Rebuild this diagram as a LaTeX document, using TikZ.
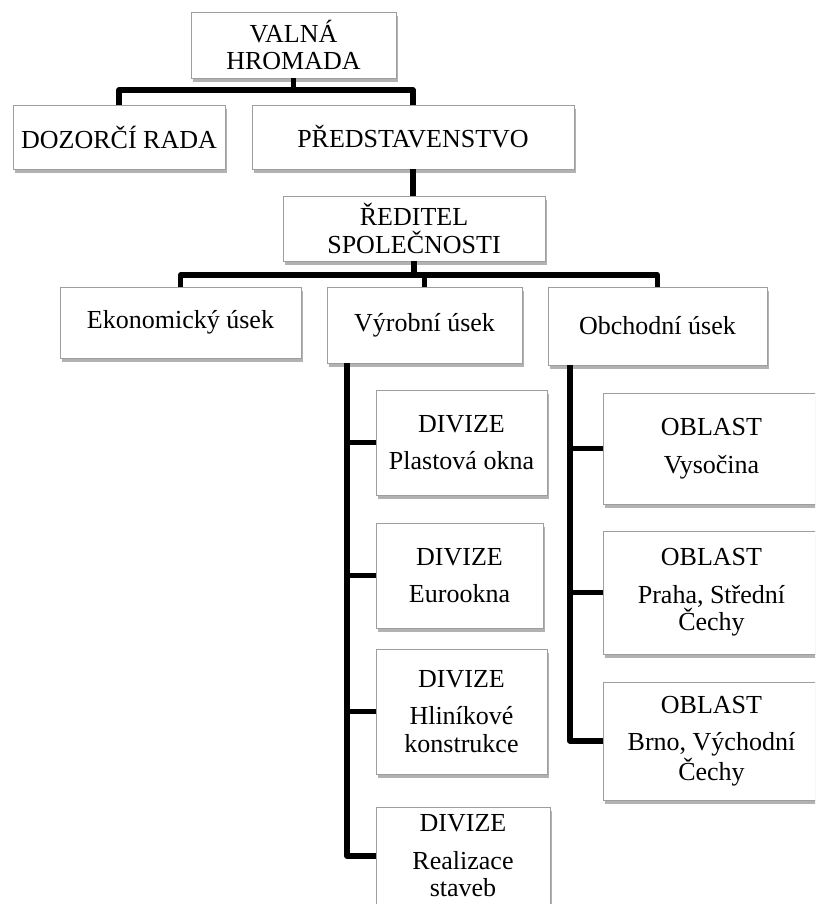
\documentclass[tikz,border=0pt]{standalone}
\usepackage{fontspec}
\setmainfont{Liberation Serif}
\usetikzlibrary{shadows}
\newcommand\boxfont{\fontsize{19.5pt}{20.6pt}\selectfont}
\tikzset{
  box/.style={draw=black!38, line width=0.75pt, fill=white, inner sep=0pt, outer sep=0pt,
    align=center, font=\boxfont,
    drop shadow={shadow xshift=1.5pt, shadow yshift=-2.7pt, opacity=0.5, fill=black!60}},
  conn/.style={line width=3.8pt, line join=round, draw=black}
}
\begin{document}
\begin{tikzpicture}[x=0.75pt, y=-0.75pt]
\path[use as bounding box, clip] (0,0) rectangle (815,904);
\fill[white] (0,0) rectangle (815,904);
% top level
\node[box, minimum width=153.75pt, minimum height=49.5pt] (vh) at (293.5,45) {VALNÁ\\HROMADA};
\node[box, minimum width=159pt, minimum height=48pt] (dr) at (119,137) {DOZORČÍ RADA};
\node[box, minimum width=241.5pt, minimum height=48pt] (pr) at (413,137) {PŘEDSTAVENSTVO};
\node[box, minimum width=196.5pt, minimum height=48.75pt] (rd) at (414,228.5) {ŘEDITEL\\SPOLEČNOSTI};
% sections
\node[box, minimum width=180.75pt, minimum height=53.25pt] (ek) at (180.5,322.5) {Ekonomický úsek};
\node[box, minimum width=146.25pt, minimum height=57pt] (vy) at (424.5,325) {Výrobní úsek};
\node[box, minimum width=164.25pt, minimum height=58.5pt] (ob) at (657.5,326) {Obchodní úsek};
% divisions
\node[box, minimum width=128.25pt, minimum height=78.75pt] (d1) at (461.5,442.5) {DIVIZE\\[7.5pt]Plastová okna};
\node[box, minimum width=125.25pt, minimum height=78.75pt] (d2) at (459.5,575.5) {DIVIZE\\[7.5pt]Eurookna};
\node[box, minimum width=128.25pt, minimum height=93.75pt] (d3) at (461.5,711.5) {DIVIZE\\[7.5pt]Hliníkové\\konstrukce};
\node[box, minimum width=130.5pt, minimum height=73.5pt] (d4) at (463,856) {DIVIZE\\[7.5pt]Realizace\\staveb};
% regions
\node[box, minimum width=162.75pt, minimum height=83.25pt] (o1) at (711.5,448.5) {OBLAST\\[7.5pt]Vysočina};
\node[box, minimum width=162.75pt, minimum height=92.25pt] (o2) at (711.5,592.5) {OBLAST\\[7.5pt]Praha, Střední\\Čechy};
\node[box, minimum width=162.75pt, minimum height=88.5pt] (o3) at (711.5,741) {OBLAST\\[7.5pt]Brno, Východní\\Čechy};
% connectors
\coordinate (b1) at (293.5,90);
\coordinate (b2) at (414,275);
\coordinate (tv) at (347,0);
\coordinate (to) at (570,0);
\draw[conn] (vh.south) -- (b1);
\draw[conn] (dr.north) |- (b1) -| (pr.north);
\draw[conn] (pr.south) -- (pr.south |- rd.north);
\draw[conn] (rd.south) -- (rd.south |- b2);
\draw[conn] (ek.north) |- (b2) -| (ob.north);
\draw[conn] (vy.north) -- (vy.north |- b2);
\draw[conn] (vy.south -| tv) |- (d4.west);
\foreach \n in {d1,d2,d3} \draw[conn] (tv |- \n.west) -- (\n.west);
\draw[conn] (ob.south -| to) |- (o3.west);
\foreach \n in {o1,o2} \draw[conn] (to |- \n.west) -- (\n.west);
\end{tikzpicture}
\end{document}
